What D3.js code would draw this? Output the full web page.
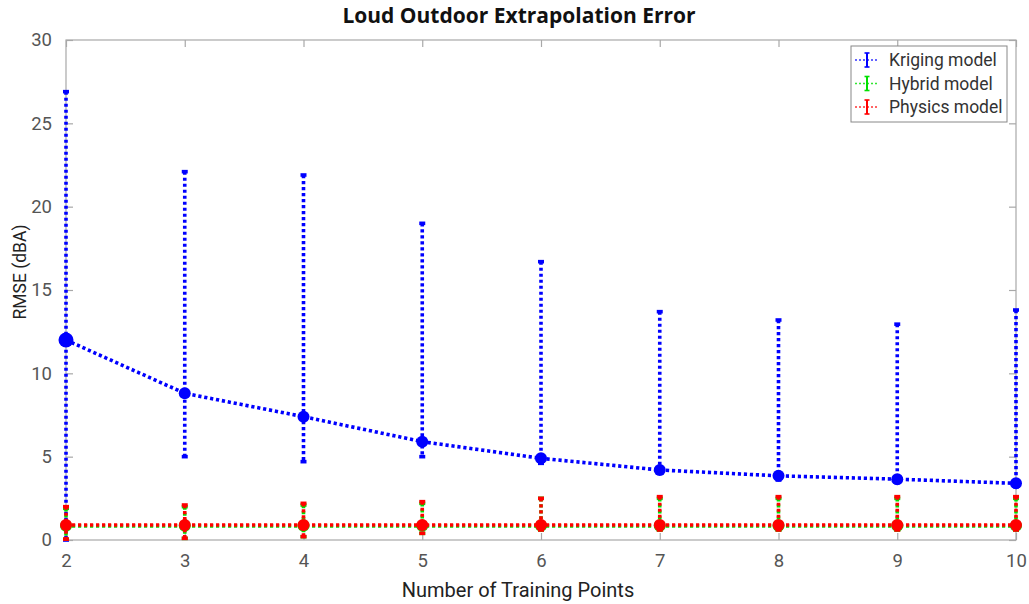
<!DOCTYPE html>
<html>
<head>
<meta charset="utf-8">
<script src="https://cdn.jsdelivr.net/npm/d3@7/dist/d3.min.js"></script>
<style>
  html, body { margin: 0; padding: 0; background: #fff; }
  svg { display: block; }
</style>
</head>
<body>
<svg id="chart" width="1029" height="604"></svg>
<script>
// Number of training points on the x axis
const trainingPoints = [2, 3, 4, 5, 6, 7, 8, 9, 10];

// Kriging model: mean RMSE and error-bar bounds (dBA)
const krigingMean  = [12.0, 8.8, 7.4, 5.9, 4.9, 4.2, 3.85, 3.65, 3.4];
const krigingUpper = [26.9, 22.1, 21.9, 19.0, 16.7, 13.7, 13.2, 12.95, 13.8];
const krigingLower = [0.0, 5.0, 4.7, 5.0, 4.6, 4.0, 3.6, 3.45, 3.2];

// Hybrid model
const hybridMean  = [0.85, 0.85, 0.85, 0.85, 0.85, 0.85, 0.85, 0.85, 0.85];
const hybridUpper = [1.9, 2.0, 2.1, 2.2, 2.5, 2.5, 2.5, 2.5, 2.5];
const hybridLower = [0.05, 0.1, 0.2, 0.4, 0.6, 0.6, 0.6, 0.6, 0.6];

// Physics model
const physicsMean  = [0.9, 0.9, 0.9, 0.9, 0.9, 0.9, 0.9, 0.9, 0.9];
const physicsUpper = [2.0, 2.1, 2.2, 2.3, 2.5, 2.6, 2.6, 2.6, 2.6];
const physicsLower = [0.05, 0.1, 0.2, 0.4, 0.6, 0.6, 0.6, 0.6, 0.6];

const yTicks = [0, 5, 10, 15, 20, 25, 30];

const seriesList = [
  { name: "Kriging model", color: "#0000ff", mean: krigingMean, upper: krigingUpper, lower: krigingLower, firstR: 7.5 },
  { name: "Hybrid model",  color: "#00e000", mean: hybridMean,  upper: hybridUpper,  lower: hybridLower,  firstR: 6 },
  { name: "Physics model", color: "#ff0000", mean: physicsMean, upper: physicsUpper, lower: physicsLower, firstR: 6 }
];

const svg = d3.select("#chart");
const plotLeft = 66, plotRight = 1016, plotTop = 40, plotBottom = 540;

const x = d3.scaleLinear().domain([2, 10]).range([plotLeft, plotRight]);
const y = d3.scaleLinear().domain([0, 30]).range([plotBottom, plotTop]);

const axisColor = "#a8a8a8";
const labelColor = "#555";
const fontFam = "Roboto, 'Noto Sans', sans-serif";

// Plot frame
svg.append("rect")
  .attr("x", plotLeft).attr("y", plotTop)
  .attr("width", plotRight - plotLeft).attr("height", plotBottom - plotTop)
  .attr("fill", "none").attr("stroke", axisColor).attr("stroke-width", 1.2);

// Axes with inward ticks on all four sides
const xBottom = svg.append("g").attr("transform", `translate(0,${plotBottom})`)
  .call(d3.axisBottom(x).tickValues(trainingPoints).tickSizeInner(-7).tickSizeOuter(0).tickPadding(14).tickFormat(d3.format("d")));
const xTop = svg.append("g").attr("transform", `translate(0,${plotTop})`)
  .call(d3.axisTop(x).tickValues(trainingPoints).tickSizeInner(-7).tickSizeOuter(0).tickFormat(""));
const yLeft = svg.append("g").attr("transform", `translate(${plotLeft},0)`)
  .call(d3.axisLeft(y).tickValues(yTicks).tickSizeInner(-7).tickSizeOuter(0).tickPadding(14));
const yRight = svg.append("g").attr("transform", `translate(${plotRight},0)`)
  .call(d3.axisRight(y).tickValues(yTicks).tickSizeInner(-7).tickSizeOuter(0).tickFormat(""));

[xBottom, xTop, yLeft, yRight].forEach(g => {
  g.select(".domain").remove();
  g.selectAll(".tick line").attr("stroke", axisColor).attr("stroke-width", 1.2);
  g.selectAll(".tick text")
    .attr("fill", labelColor)
    .attr("font-family", fontFam)
    .attr("font-size", 18.5);
});

// Dotted series: error bars, connecting line, markers
const dash = "3.2,2.8";
const lineGen = d3.line().x((d, i) => x(trainingPoints[i])).y(d => y(d));
const capHalf = 3;

seriesList.forEach(s => {
  const g = svg.append("g");
  // error bars
  trainingPoints.forEach((p, i) => {
    g.append("line")
      .attr("x1", x(p)).attr("x2", x(p))
      .attr("y1", y(s.upper[i])).attr("y2", y(Math.max(0, s.lower[i])))
      .attr("stroke", s.color).attr("stroke-width", 3.6)
      .attr("stroke-dasharray", dash);
    [s.upper[i], Math.max(0, s.lower[i])].forEach(v => {
      g.append("line")
        .attr("x1", x(p) - capHalf).attr("x2", x(p) + capHalf)
        .attr("y1", y(v)).attr("y2", y(v))
        .attr("stroke", s.color).attr("stroke-width", 3.6);
    });
  });
  // mean line
  g.append("path")
    .datum(s.mean)
    .attr("d", lineGen)
    .attr("fill", "none")
    .attr("stroke", s.color).attr("stroke-width", 3.6)
    .attr("stroke-dasharray", dash);
  // markers
  g.selectAll("circle").data(s.mean).join("circle")
    .attr("cx", (d, i) => x(trainingPoints[i]))
    .attr("cy", d => y(d))
    .attr("r", (d, i) => i === 0 ? s.firstR : 6)
    .attr("fill", s.color);
});

// Title
svg.append("text")
  .attr("x", 519).attr("y", 23)
  .attr("text-anchor", "middle")
  .attr("font-family", "'Open Sans', 'Noto Sans', sans-serif")
  .attr("font-weight", "bold").attr("font-size", 21)
  .attr("fill", "#111")
  .text("Loud Outdoor Extrapolation Error");

// Axis titles
svg.append("text")
  .attr("x", 518).attr("y", 597)
  .attr("text-anchor", "middle")
  .attr("font-family", fontFam).attr("font-size", 20)
  .attr("fill", "#222")
  .text("Number of Training Points");

svg.append("text")
  .attr("transform", "translate(26,272) rotate(-90)")
  .attr("text-anchor", "middle")
  .attr("font-family", fontFam).attr("font-size", 17.5)
  .attr("fill", "#222")
  .text("RMSE (dBA)");

// Legend
const lg = svg.append("g").attr("transform", "translate(851,46)");
lg.append("rect")
  .attr("width", 156).attr("height", 76)
  .attr("fill", "#fff").attr("stroke", "#888").attr("stroke-width", 1);
seriesList.forEach((s, i) => {
  const cy = 14 + i * 23.5;
  lg.append("line")
    .attr("x1", 4).attr("x2", 28).attr("y1", cy).attr("y2", cy)
    .attr("stroke", s.color).attr("stroke-width", 1.6).attr("stroke-dasharray", "2,2").attr("opacity", 0.8);
  lg.append("line")
    .attr("x1", 16).attr("x2", 16).attr("y1", cy - 7).attr("y2", cy + 7)
    .attr("stroke", s.color).attr("stroke-width", 2);
  [cy - 7, cy + 7].forEach(v => lg.append("line")
    .attr("x1", 13.5).attr("x2", 18.5).attr("y1", v).attr("y2", v)
    .attr("stroke", s.color).attr("stroke-width", 1.6));
  lg.append("text")
    .attr("x", 38).attr("y", cy + 6)
    .attr("font-family", fontFam).attr("font-size", 17.5)
    .attr("fill", "#333")
    .text(s.name);
});
</script>
</body>
</html>
